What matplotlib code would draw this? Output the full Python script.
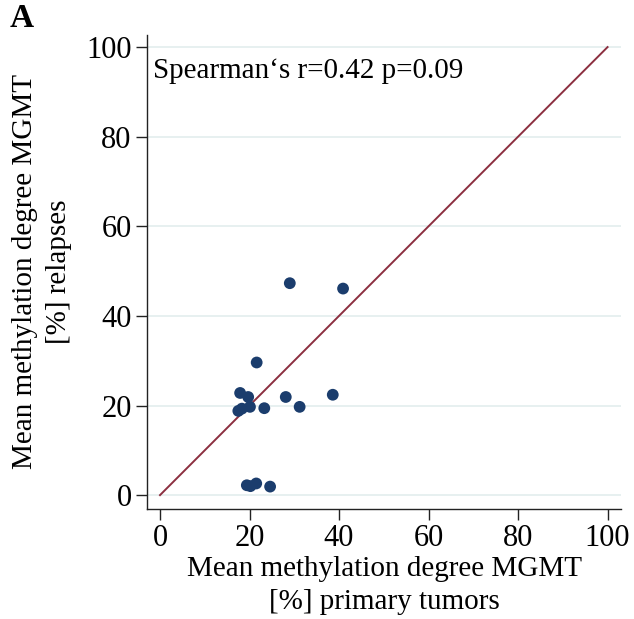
import matplotlib
matplotlib.use('Agg')
import matplotlib.pyplot as plt
import numpy as np

# mean MGMT methylation (%) - primary tumor vs relapse
primary = [29.0, 40.9, 21.6, 17.9, 19.7, 28.1, 38.6, 20.1, 18.3, 17.5,
           23.3, 31.2, 19.4, 20.2, 21.5, 24.6]
relapse = [47.3, 46.1, 29.6, 22.8, 21.9, 21.9, 22.4, 19.7, 19.3, 18.8,
           19.4, 19.7, 2.2, 2.0, 2.6, 1.9]
ticks = [0, 20, 40, 60, 80, 100]
stat_text = 'Spearman\u2018s r=0.42 p=0.09'

plt.rcParams['font.family'] = ['Liberation Serif', 'DejaVu Serif']

fig = plt.figure(figsize=(6.34, 6.19), dpi=100)
ax = fig.add_axes([0.2319, 0.1777, 0.7476, 0.7658])

for t in ticks:
    ax.axhline(t, color='#e3eeee', linewidth=1.2, zorder=0)

ax.plot([0, 100], [0, 100], color='#8c2f40', linewidth=1.4, zorder=2)
ax.scatter(primary, relapse, s=72, color='#1b3d6d', edgecolors='none', zorder=3)

ax.set_xlim(-2.9, 103)
ax.set_ylim(-3.1, 102.7)
ax.set_xticks(ticks)
ax.set_yticks(ticks)
ax.tick_params(labelsize=22, length=8, width=1, color='#222222', pad=3)
for side in ['top', 'right']:
    ax.spines[side].set_visible(False)
for side in ['left', 'bottom']:
    ax.spines[side].set_color('#222222')
    ax.spines[side].set_linewidth(1)

ax.set_xlabel('Mean methylation degree MGMT\n[%] primary tumors', fontsize=21,
              linespacing=1.35, labelpad=2)
ax.set_ylabel('Mean methylation degree MGMT\n[%] relapses', fontsize=21,
              linespacing=1.4, labelpad=10)

ax.text(-1.5, 97.5, stat_text, fontsize=21, va='top', ha='left')
fig.text(0.015, 0.995, 'A', fontsize=24, fontweight='bold', va='top', ha='left')

fig.savefig('out.png', dpi=100)
